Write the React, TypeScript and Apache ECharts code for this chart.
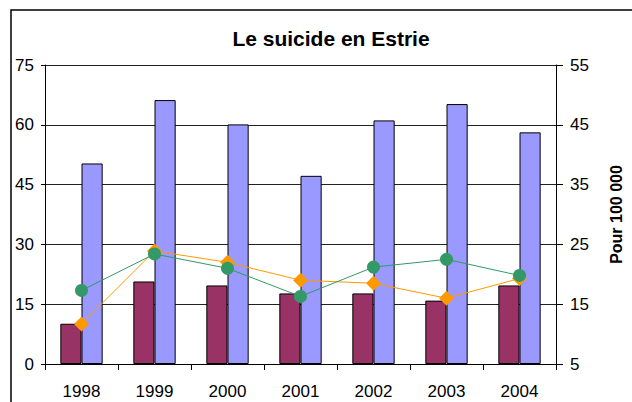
import React, { useEffect, useRef } from "react";
import * as echarts from "echarts";

const years = ["1998", "1999", "2000", "2001", "2002", "2003", "2004"];
const maroonBars = [10.1, 20.7, 19.7, 17.7, 17.7, 15.9, 19.7];
const blueBars = [50.3, 66.2, 60.1, 47.2, 61.1, 65.2, 58.1];
const orangeRates = [11.7, 23.9, 22.0, 19.0, 18.5, 16.0, 19.3];
const greenRates = [17.3, 23.4, 21.0, 16.3, 21.2, 22.5, 19.8];
const leftTicks = { min: 0, max: 75, interval: 15 };
const rightTicks = { min: 5, max: 55, interval: 10 };

const FONT = "'Liberation Sans', Arial, sans-serif";

export default function App() {
  const ref = useRef<HTMLDivElement>(null);
  useEffect(() => {
    if (!ref.current) return;
    const chart = echarts.init(ref.current, undefined, { renderer: "svg" });
    chart.setOption({
      animation: false,
      backgroundColor: "#ffffff",
      title: {
        text: "Le suicide en Estrie",
        left: 326,
        top: 23,
        textAlign: "center",
        textStyle: { fontFamily: FONT, fontSize: 21, fontWeight: "bold", color: "#000" },
      },
      graphic: [
        {
          type: "rect",
          shape: { x: 11, y: 10, width: 640, height: 420 },
          style: { fill: "none", stroke: "#000", lineWidth: 1.5 },
          silent: true,
        },
      ],
      grid: { left: 45, right: 69, top: 65, bottom: 38, containLabel: false },
      xAxis: {
        type: "category",
        data: years,
        axisLine: { lineStyle: { color: "#000", width: 1 } },
        axisTick: { show: true, inside: false, length: 6, lineStyle: { color: "#000" } },
        axisLabel: { fontFamily: FONT, fontSize: 17, color: "#000", margin: 19 },
        splitLine: { show: false },
      },
      yAxis: [
        {
          type: "value",
          min: leftTicks.min,
          max: leftTicks.max,
          interval: leftTicks.interval,
          axisLine: { show: true, lineStyle: { color: "#000" } },
          axisTick: { show: true, length: 4, lineStyle: { color: "#000" } },
          axisLabel: { fontFamily: FONT, fontSize: 17, color: "#000", margin: 11 },
          splitLine: { show: true, lineStyle: { color: "#222", width: 1 } },
        },
        {
          type: "value",
          position: "right",
          min: rightTicks.min,
          max: rightTicks.max,
          interval: rightTicks.interval,
          name: "Pour 100 000",
          nameLocation: "middle",
          nameRotate: 90,
          nameGap: 52,
          nameTextStyle: { fontFamily: FONT, fontSize: 16, fontWeight: "bold", color: "#000" },
          axisLine: { show: true, lineStyle: { color: "#000" } },
          axisTick: { show: true, length: 7, lineStyle: { color: "#000" } },
          axisLabel: { fontFamily: FONT, fontSize: 17, color: "#000", margin: 14 },
          splitLine: { show: false },
        },
      ],
      series: [
        {
          type: "bar",
          data: maroonBars,
          yAxisIndex: 0,
          barGap: "0%",
          barCategoryGap: "42%",
          itemStyle: { color: "#993366", borderColor: "#000", borderWidth: 1 },
          z: 2,
        },
        {
          type: "bar",
          data: blueBars,
          yAxisIndex: 0,
          barGap: "0%",
          barCategoryGap: "42%",
          itemStyle: { color: "#9999FF", borderColor: "#000", borderWidth: 1 },
          z: 2,
        },
        {
          type: "line",
          data: orangeRates,
          yAxisIndex: 1,
          symbol: "diamond",
          symbolSize: 15,
          lineStyle: { color: "#FF9900", width: 1 },
          itemStyle: { color: "#FF9900" },
          z: 4,
        },
        {
          type: "line",
          data: greenRates,
          yAxisIndex: 1,
          symbol: "circle",
          symbolSize: 13,
          lineStyle: { color: "#339966", width: 1 },
          itemStyle: { color: "#339966" },
          z: 5,
        },
      ],
    });
    return () => chart.dispose();
  }, []);
  return (
    <div
      ref={ref}
      style={{ position: "fixed", left: 0, top: 0, width: 632, height: 402 }}
    />
  );
}
